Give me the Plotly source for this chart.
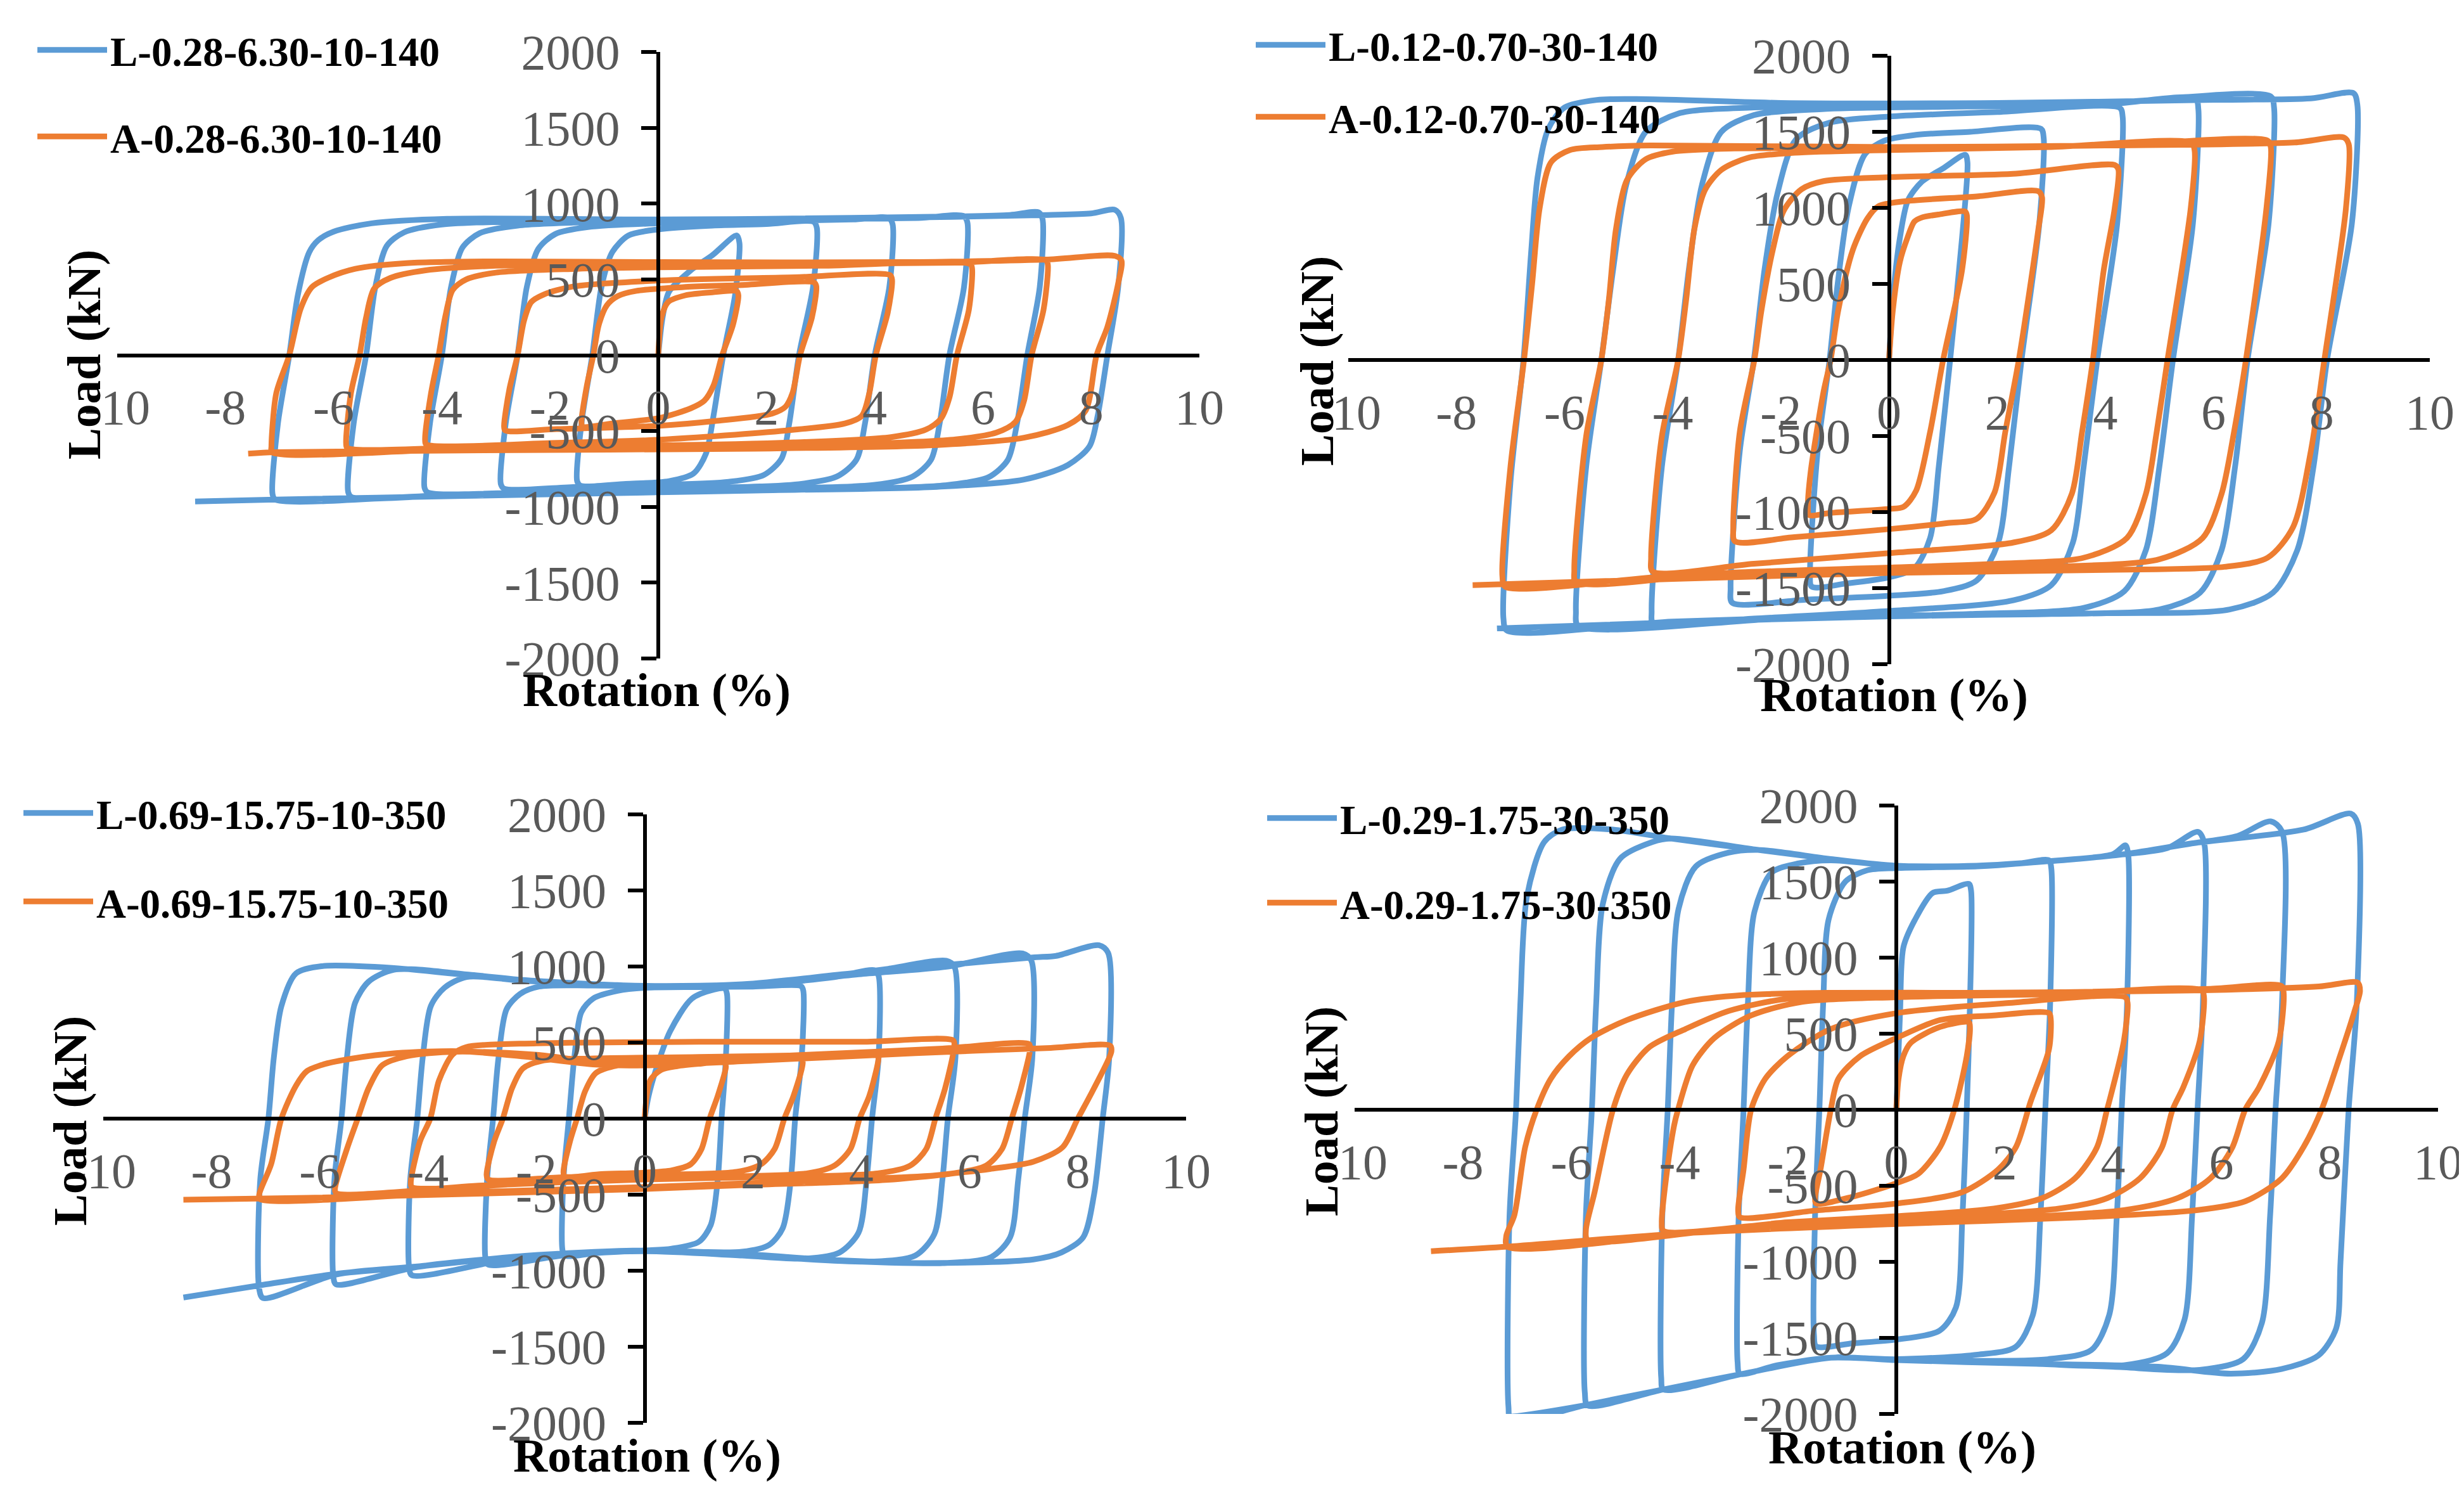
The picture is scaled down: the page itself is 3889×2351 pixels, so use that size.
import plotly.graph_objects as go

W, H = 3889, 2351
BLUE = "#5B9BD5"
ORANGE = "#ED7D31"
FONT = "Liberation Serif"
GRAY = "#595959"

x_ticks = [-10, -8, -6, -4, -2, 0, 2, 4, 6, 8, 10]
y_ticks = [-2000, -1500, -1000, -500, 0, 500, 1000, 1500, 2000]
y_minor = list(range(-2000, 2001, 100))

names_L = ["L-0.28-6.30-10-140", "L-0.12-0.70-30-140", "L-0.69-15.75-10-350", "L-0.29-1.75-30-350"]
names_A = ["A-0.28-6.30-10-140", "A-0.12-0.70-30-140", "A-0.69-15.75-10-350", "A-0.29-1.75-30-350"]

# ---- panel 1 : (rotation %, load kN)
L1 = [(0,0),(0.08,250),(0.2,420),(0.6,560),(1.0,660),(1.45,790),
(1.5,740),(1.42,400),(1.2,0),(1.02,-400),(0.88,-650),(0.65,-780),(0.2,-830),(-0.6,-848),(-1.44,-860),
(-1.5,-830),(-1.42,-450),(-1.22,0),(-1.05,450),(-0.85,680),(-0.55,790),(0,830),(1.0,855),(2.0,865),(2.87,880),
(2.93,840),(2.86,450),(2.6,0),(2.42,-450),(2.28,-680),(1.95,-790),(1.3,-835),(0,-856),(-1.5,-868),(-2.85,-880),
(-2.91,-850),(-2.82,-450),(-2.6,0),(-2.43,450),(-2.22,700),(-1.9,800),(-1.3,845),(0,870),(2.0,885),(3.6,895),(4.26,905),
(4.33,865),(4.27,450),(4.0,0),(3.82,-450),(3.66,-690),(3.3,-800),(2.6,-850),(1.0,-875),(-1.5,-890),(-4.26,-905),
(-4.32,-875),(-4.22,-450),(-4.0,0),(-3.83,450),(-3.62,710),(-3.3,805),(-2.6,855),(-1.0,880),(2.0,895),(4.8,905),(5.64,918),
(5.71,880),(5.65,450),(5.38,0),(5.2,-450),(5.04,-690),(4.7,-800),(4.0,-855),(2.0,-880),(-1.0,-900),(-3.5,-918),(-5.67,-935),
(-5.73,-905),(-5.63,-450),(-5.4,0),(-5.23,450),(-5.02,720),(-4.7,810),(-4.0,862),(-2.0,885),(2.0,900),(5.5,915),(6.5,925),(7.03,942),
(7.1,900),(7.05,450),(6.82,0),(6.63,-450),(6.46,-690),(6.1,-805),(5.3,-858),(3.0,-885),(0,-900),(-4.0,-925),(-7.08,-952),
(-7.13,-915),(-7.03,-450),(-6.82,0),(-6.66,400),(-6.45,680),(-6.28,760),(-6.0,815),(-5.3,870),(-3.9,900),(0,895),(4.0,905),(7.2,925),(8.0,935),(8.44,959),
(8.55,905),(8.5,450),(8.3,0),(8.12,-400),(7.97,-600),(7.57,-724),(6.76,-820),(5.15,-868),(1.8,-892),(0,-904),(-3.6,-928),(-7.08,-952),(-8.56,-964)]

A1 = [(0,0),(0.06,250),(0.18,350),(0.5,395),(1.0,415),(1.45,422),
(1.48,395),(1.38,200),(1.18,0),(1.02,-200),(0.85,-300),(0.6,-350),(0.03,-413),(-0.85,-450),(-1.4,-470),
(-1.42,-440),(-1.32,-200),(-1.2,0),(-1.1,200),(-0.95,330),(-0.75,390),(-0.4,425),(0.5,450),(1.5,462),(2.88,480),
(2.92,455),(2.84,250),(2.62,0),(2.48,-250),(2.35,-340),(2.1,-385),(1.05,-434),(0.03,-465),(-1.87,-487),(-2.83,-496),
(-2.85,-470),(-2.75,-220),(-2.6,0),(-2.48,230),(-2.35,350),(-2.12,400),(-1.58,453),(0.03,493),(2.52,514),(4.28,529),
(4.32,500),(4.24,280),(4.02,0),(3.9,-250),(3.76,-400),(3.45,-450),(2.37,-496),(0.03,-557),(-1.87,-578),(-4.29,-588),
(-4.31,-560),(-4.2,-250),(-4.06,0),(-3.94,250),(-3.8,430),(-3.55,500),(-3.0,545),(-1.5,570),(0,580),(3.0,590),(5.77,600),
(5.8,570),(5.74,300),(5.52,0),(5.38,-280),(5.22,-420),(4.95,-490),(4.3,-540),(2.5,-575),(0,-595),(-3.0,-600),(-5.75,-610),
(-5.77,-580),(-5.68,-250),(-5.52,0),(-5.4,250),(-5.25,440),(-4.95,510),(-4.3,560),(-3.0,590),(0,600),(3.0,605),(5.5,610),(7.17,625),
(7.2,595),(7.12,300),(6.9,0),(6.76,-300),(6.6,-440),(6.25,-510),(5.5,-555),(3.8,-585),(0,-610),(-4.0,-625),(-7.14,-640),
(-7.15,-600),(-7.06,-250),(-6.82,0),(-6.61,307),(-6.4,450),(-6.1,511),(-5.6,570),(-4.66,607),(-2.9,619),(0,614),(4.48,614),(7.16,631),(8.44,655),
(8.56,625),(8.5,475),(8.3,187),(8.1,0),(7.9,-364),(7.57,-460),(6.76,-544),(5.15,-592),(1.79,-616),(-3.59,-628),(-7.08,-640),(-7.58,-649)]

# ---- panel 2
L2 = [(0,0),(0.07,400),(0.2,800),(0.35,1050),(0.6,1170),(1.0,1260),(1.41,1349),
(1.45,1300),(1.35,800),(1.13,0),(0.92,-700),(0.76,-1170),(0.47,-1368),(0,-1429),(-0.8,-1470),(-1.43,-1490),
(-1.46,-1400),(-1.32,-600),(-1.1,0),(-0.95,500),(-0.75,1000),(-0.45,1350),(-0.1,1440),(0.5,1480),(1.5,1500),(2.81,1520),
(2.86,1460),(2.78,900),(2.45,0),(2.22,-700),(2.02,-1200),(1.62,-1450),(1.0,-1520),(0,-1550),(-1.5,-1575),(-2.9,-1596),
(-2.93,-1500),(-2.76,-600),(-2.5,0),(-2.3,600),(-2.06,1100),(-1.72,1450),(-1.1,1560),(0,1600),(2.0,1630),(4.27,1657),
(4.32,1600),(4.22,900),(3.85,0),(3.6,-700),(3.4,-1200),(3.0,-1480),(2.3,-1580),(0,-1650),(-2.5,-1700),(-4.36,-1733),
(-4.39,-1650),(-4.2,-700),(-3.9,0),(-3.7,600),(-3.46,1150),(-3.1,1500),(-2.5,1610),(-1.2,1650),(1.0,1665),(4.0,1680),(5.67,1717),
(5.72,1650),(5.62,900),(5.25,0),(5.0,-700),(4.75,-1250),(4.35,-1520),(3.6,-1630),(1.5,-1670),(-2.0,-1700),(-5.75,-1748),
(-5.79,-1650),(-5.6,-700),(-5.32,0),(-5.1,600),(-4.86,1150),(-4.5,1500),(-3.9,1620),(-2.5,1660),(0,1670),(4.0,1690),(7.06,1733),
(7.12,1660),(7.02,900),(6.63,0),(6.4,-700),(6.15,-1250),(5.75,-1530),(5.0,-1640),(3.0,-1670),(0,-1680),(-4.0,-1720),(-7.07,-1778),
(-7.13,-1700),(-7.0,-800),(-6.76,0),(-6.62,700),(-6.5,1200),(-6.3,1520),(-6.0,1660),(-5.4,1710),(-4.5,1715),(-2.0,1690),(2.0,1690),(6.0,1710),(7.8,1720),(8.59,1754),
(8.66,1680),(8.56,900),(8.1,0),(7.85,-700),(7.55,-1250),(7.1,-1530),(6.3,-1640),(4.0,-1665),(0,-1685),(-4.0,-1725),(-7.25,-1765)]

A2 = [(0,0),(0.07,325),(0.2,644),(0.34,803),(0.47,910),(0.6,936),(0.94,958),(1.41,976),
(1.44,950),(1.35,590),(1.0,0),(0.76,-473),(0.5,-860),(0.27,-965),(0,-979),(-1.08,-1005),(-1.48,-1019),
(-1.5,-960),(-1.45,-739),(-1.21,-207),(-1.08,0),(-0.94,324),(-0.67,723),(-0.4,930),(-0.2,1010),(0.27,1043),(1.62,1075),(2.76,1109),
(2.83,1069),(2.76,856),(2.4,0),(2.15,-473),(1.95,-872),(1.62,-1045),(1.08,-1072),(0,-1112),(-1.75,-1165),(-2.85,-1192),
(-2.88,-1100),(-2.76,-473),(-2.49,0),(-2.36,324),(-2.15,723),(-1.95,980),(-1.62,1122),(-1.21,1176),(0,1202),(2.29,1224),(4.17,1282),
(4.24,1255),(4.17,990),(3.97,590),(3.77,0),(3.57,-473),(3.38,-880),(3.0,-1120),(2.3,-1200),(0,-1270),(-2.5,-1340),(-4.37,-1391),
(-4.4,-1300),(-4.2,-500),(-3.9,0),(-3.75,400),(-3.6,860),(-3.4,1120),(-3.1,1250),(-2.6,1330),(-1.75,1362),(0,1380),(3.0,1400),(5.59,1428),
(5.65,1380),(5.58,1000),(5.15,0),(4.95,-473),(4.75,-880),(4.4,-1170),(3.6,-1300),(2.0,-1340),(0,-1365),(-3.0,-1400),(-5.79,-1460),
(-5.82,-1380),(-5.6,-500),(-5.32,0),(-5.18,400),(-5.05,860),(-4.85,1180),(-4.5,1320),(-4.0,1370),(-3.1,1389),(0,1395),(4.0,1410),(7.0,1442),
(7.06,1400),(6.98,1000),(6.6,0),(6.38,-473),(6.15,-880),(5.8,-1170),(5.0,-1310),(3.0,-1360),(0,-1385),(-4.0,-1420),(-7.1,-1490),
(-7.15,-1420),(-7.0,-700),(-6.75,0),(-6.6,500),(-6.46,1000),(-6.25,1300),(-5.9,1380),(-5.3,1400),(-4.4,1410),(0,1400),(4.0,1410),(7.5,1430),(8.41,1463),
(8.5,1420),(8.45,1000),(8.05,0),(7.8,-600),(7.47,-1100),(7.0,-1300),(6.2,-1360),(4.0,-1380),(0,-1400),(-4.0,-1440),(-7.7,-1480)]

# ---- panel 3
L3 = [(0,0),(0.07,145),(0.2,312),(0.47,574),(0.87,788),(1.28,848),(1.48,855),
(1.52,820),(1.5,400),(1.42,0),(1.35,-400),(1.22,-700),(1.0,-810),(0.5,-855),(0,-867),(-0.8,-880),(-1.48,-900),
(-1.52,-860),(-1.5,-400),(-1.4,0),(-1.3,400),(-1.17,700),(-0.95,790),(-0.5,840),(0,860),(1.0,865),(2.0,868),(2.89,871),
(2.93,840),(2.9,400),(2.78,0),(2.7,-400),(2.55,-720),(2.3,-830),(1.8,-875),(0,-870),(-1.5,-900),(-2.89,-960),
(-2.94,-920),(-2.91,-400),(-2.8,0),(-2.7,400),(-2.55,720),(-2.3,820),(-1.95,868),(-1.0,875),(0,872),(2.0,880),(3.5,930),(4.25,975),
(4.32,940),(4.32,400),(4.2,0),(4.1,-400),(3.95,-750),(3.6,-880),(3.0,-920),(1.8,-900),(0,-872),(-2.2,-905),(-4.3,-1030),
(-4.35,-980),(-4.33,-400),(-4.2,0),(-4.1,400),(-3.95,740),(-3.7,860),(-3.29,931),(-2.2,905),(0,873),(2.0,885),(3.83,955),(4.5,985),(5.57,1038),
(5.72,1000),(5.74,400),(5.6,0),(5.5,-400),(5.35,-760),(5.0,-900),(4.2,-940),(2.5,-915),(0,-868),(-2.2,-905),(-4.2,-975),(-5.7,-1090),
(-5.75,-1040),(-5.73,-400),(-5.6,0),(-5.5,400),(-5.35,760),(-5.1,900),(-4.63,979),(-3.2,945),(-2.2,910),(0,872),(2.0,884),(4.0,950),(5.6,1000),(6.98,1086),
(7.14,1040),(7.16,400),(7.02,0),(6.9,-400),(6.75,-780),(6.4,-910),(5.5,-950),(3.5,-930),(1.8,-890),(0,-868),(-2.2,-902),(-4.2,-972),(-5.7,-1025),(-7.05,-1180),
(-7.12,-1120),(-7.1,-400),(-6.95,0),(-6.85,400),(-6.71,740),(-6.44,955),(-5.97,1002),(-4.63,990),(-2.21,907),(0,871),(1.81,883),(3.83,955),(5.57,1010),(7.2,1060),(7.6,1070),(8.39,1140),
(8.56,1090),(8.58,400),(8.46,0),(8.3,-500),(8.1,-780),(7.7,-880),(7.18,-926),(5.17,-950),(3.15,-926),(1.81,-890),(0,-867),(-2.21,-902),(-4.23,-974),(-5.7,-1021),(-7.05,-1093),(-8.52,-1176)]

A3 = [(0,0),(0.1,250),(0.3,320),(0.6,345),(1.0,360),(1.48,371),
(1.5,340),(1.35,150),(1.2,0),(1.05,-200),(0.85,-300),(0.5,-340),(0,-355),(-0.8,-365),(-1.48,-380),
(-1.5,-350),(-1.38,-150),(-1.25,0),(-1.1,180),(-0.9,300),(-0.5,350),(0,365),(1.5,380),(2.89,395),
(2.92,370),(2.75,150),(2.58,0),(2.4,-200),(2.15,-300),(1.7,-350),(0,-370),(-1.5,-385),(-2.89,-400),
(-2.92,-370),(-2.78,-150),(-2.62,0),(-2.45,200),(-2.25,330),(-1.9,380),(-1.0,395),(1.0,405),(3.5,420),(4.3,431),
(4.32,400),(4.15,150),(3.97,0),(3.8,-200),(3.5,-310),(3.0,-360),(1.0,-385),(-1.5,-410),(-4.3,-450),
(-4.32,-420),(-4.15,-150),(-3.96,0),(-3.8,250),(-3.55,420),(-3.3,470),(-2.0,495),(1.0,505),(4.0,505),(5.7,514),
(5.72,480),(5.55,200),(5.37,0),(5.2,-200),(4.9,-310),(4.3,-360),(2.0,-385),(0,-400),(-3.0,-440),(-5.7,-490),
(-5.72,-460),(-5.5,-200),(-5.3,0),(-5.1,200),(-4.85,350),(-4.4,410),(-3.5,440),(-2.0,420),(-0.8,370),(0.5,380),(3.0,420),(5.5,460),(7.1,490),
(7.12,460),(6.95,200),(6.78,0),(6.6,-200),(6.3,-310),(5.6,-365),(4.5,-390),(1.81,-426),(0,-450),(-3.5,-486),(-7.1,-530),
(-7.12,-500),(-6.9,-300),(-6.71,0),(-6.44,217),(-6.24,312),(-5.9,360),(-5.4,395),(-4.6,430),(-3.4,443),(-2.2,407),(-0.9,355),(0,350),(2.0,380),(5.0,430),(7.5,465),(8.6,479),
(8.62,440),(8.3,200),(8.0,0),(7.72,-188),(7.18,-283),(6.38,-331),(4.5,-402),(1.81,-438),(0,-462),(-3.56,-498),(-6.24,-521),(-8.52,-533)]

# ---- panel 4
L4 = [(0,0),(0.07,650),(0.13,1067),(0.34,1246),(0.67,1425),(0.94,1440),(1.34,1485),
(1.38,1440),(1.36,700),(1.3,0),(1.22,-700),(1.1,-1300),(0.8,-1452),(0,-1511),(-0.8,-1535),(-1.48,-1556),
(-1.52,-1480),(-1.5,-700),(-1.42,0),(-1.35,700),(-1.25,1250),(-0.94,1500),(-0.54,1574),(0,1589),(1.5,1600),(2.3,1620),(2.82,1640),
(2.86,1590),(2.84,700),(2.75,0),(2.66,-700),(2.52,-1350),(2.2,-1560),(1.5,-1610),(0,-1640),(-1.21,-1630),(-2.2,-1680),(-2.89,-1735),
(-2.93,-1660),(-2.91,-700),(-2.82,0),(-2.74,700),(-2.62,1300),(-2.3,1560),(-1.8,1620),(-1.21,1640),(0,1604),(1.48,1604),(2.82,1634),(4.0,1680),(4.23,1738),
(4.28,1680),(4.26,700),(4.16,0),(4.07,-700),(3.93,-1350),(3.6,-1580),(2.8,-1640),(1.0,-1650),(0,-1646),(-1.21,-1630),(-2.82,-1735),(-4.3,-1839),
(-4.34,-1760),(-4.32,-700),(-4.22,0),(-4.14,700),(-4.02,1320),(-3.7,1600),(-3.1,1690),(-2.55,1708),(-1.21,1648),(0,1604),(1.48,1604),(2.82,1634),(4.16,1678),(5.0,1720),(5.57,1827),
(5.68,1760),(5.66,700),(5.56,0),(5.46,-700),(5.32,-1380),(5.0,-1600),(4.2,-1680),(2.5,-1670),(0,-1646),(-1.21,-1630),(-2.82,-1735),(-4.3,-1839),(-5.7,-1944),
(-5.75,-1860),(-5.73,-700),(-5.62,0),(-5.54,700),(-5.42,1350),(-5.1,1650),(-4.5,1760),(-4.16,1783),(-2.55,1708),(-1.21,1648),(0,1604),(1.48,1604),(2.82,1634),(4.16,1678),(5.5,1753),(6.3,1800),(6.91,1896),
(7.12,1830),(7.12,700),(7.0,0),(6.9,-700),(6.75,-1400),(6.4,-1640),(5.6,-1710),(4.0,-1690),(2.0,-1660),(0,-1646),(-1.21,-1630),(-2.82,-1735),(-4.3,-1839),(-5.77,-1944),(-7.11,-2050),
(-7.16,-1950),(-7.14,-700),(-7.02,0),(-6.94,700),(-6.82,1400),(-6.5,1760),(-6.17,1842),(-5.23,1842),(-4.16,1783),(-2.55,1708),(-1.21,1648),(0,1604),(1.48,1604),(2.82,1634),(4.16,1678),(5.5,1753),(7.52,1842),(8.39,1947),
(8.52,1880),(8.5,700),(8.35,0),(8.2,-1000),(8.12,-1437),(7.79,-1616),(7.11,-1705),(6.17,-1735),(4.83,-1690),(2.5,-1670),(0,-1646),(-1.21,-1630),(-2.82,-1735),(-4.3,-1839),(-5.77,-1944),(-7.11,-2018),(-7.92,-2033)]

A4 = [(0,0),(0.04,200),(0.13,352),(0.27,441),(0.81,545),(1.34,575),
(1.36,540),(1.3,352),(1.07,0),(0.81,-244),(0.4,-423),(0,-483),(-0.81,-572),(-1.48,-617),
(-1.5,-580),(-1.4,-394),(-1.21,0),(-1.07,203),(-0.67,352),(0,471),(0.81,590),(1.8,620),(2.82,635),
(2.85,600),(2.82,400),(2.48,54),(2.21,-244),(1.88,-393),(1.21,-543),(0,-617),(-1.48,-662),(-2.89,-706),
(-2.92,-660),(-2.82,-394),(-2.68,0),(-2.42,203),(-2.01,352),(-1.21,531),(0,635),(2.0,700),(4.23,739),
(4.27,700),(4.2,450),(4.0,150),(3.89,0),(3.7,-250),(3.3,-450),(2.7,-580),(1.8,-650),(0,-700),(-2.0,-740),(-4.3,-796),
(-4.33,-740),(-4.25,-450),(-4.1,-100),(-4.03,0),(-3.76,292),(-3.36,471),(-2.68,620),(-1.74,709),(0,740),(3.0,760),(5.64,784),
(5.68,740),(5.6,450),(5.3,150),(5.1,0),(4.9,-250),(4.5,-450),(3.9,-580),(3.0,-650),(0,-720),(-3.0,-780),(-5.7,-856),
(-5.73,-790),(-5.57,-543),(-5.23,0),(-4.97,233),(-4.56,411),(-3.89,531),(-3.09,650),(-2.0,730),(0,755),(3.5,775),(5.8,795),(7.11,814),
(7.15,770),(7.06,450),(6.7,150),(6.44,0),(6.2,-250),(5.8,-450),(5.2,-580),(4.2,-660),(2.0,-710),(0,-730),(-3.5,-800),(-7.18,-900),
(-7.2,-830),(-7.05,-692),(-6.85,-244),(-6.64,0),(-6.38,203),(-6.04,352),(-5.64,471),(-4.97,590),(-3.89,709),(-2.82,754),(-1.21,769),(1.48,769),(5.5,784),(7.8,810),(8.52,835),
(8.56,780),(8.46,650),(8.19,352),(7.85,0),(7.52,-244),(7.11,-453),(6.44,-602),(5.5,-662),(3.49,-706),(0,-751),(-3.89,-811),(-7.18,-900),(-8.59,-930)]

L_data = [L1, L2, L3, L4]
A_data = [A1, A2, A3, A4]

# ---- layout geometry (pixels in the 3889x2351 canvas)
px_x = [(177, 1885), (2120, 3827), (155, 1864), (2130, 3840)]
px_y = [(74, 1031), (80, 1040), (1277, 2237), (1263, 2223)]
legend_pos = [(46, 22, 49), (1969, 14, 26), (24, 1226, 52), (1987, 1234, 46)]
ylab_pos = [(124, 552), (2071, 562), (102, 1761), (2077, 1746)]
xlab_pos = [(1028, 1080), (2981, 1088), (1013, 2288), (2994, 2275)]

fig = go.Figure()
layout = dict(width=W, height=H, margin=dict(l=0, r=0, t=0, b=0, autoexpand=False),
              paper_bgcolor="white", plot_bgcolor="rgba(0,0,0,0)",
              font=dict(family=FONT), annotations=[])

for i in range(4):
    k = i + 1
    sfx = "" if k == 1 else str(k)
    (x0, x1), (y0, y1) = px_x[i], px_y[i]
    xc = (x0 + x1) / 2
    yc = (y0 + y1) / 2
    xdom = [x0 / W, x1 / W]
    ydom = [1 - y1 / H, 1 - y0 / H]
    leg = "legend" + sfx
    for data, nm, col in ((L_data[i], names_L[i], BLUE), (A_data[i], names_A[i], ORANGE)):
        fig.add_trace(go.Scatter(
            x=[p[0] for p in data], y=[p[1] for p in data], mode="lines", name=nm,
            line=dict(color=col, width=9, shape="spline", smoothing=0.8),
            xaxis="x" + sfx, yaxis="y" + sfx, legend=leg, legendgroup=nm))
    layout["xaxis" + sfx] = dict(
        domain=xdom, range=[-10, 10], anchor="free", position=1 - yc / H,
        showline=True, linecolor="black", linewidth=6, ticks="",
        tickmode="array", tickvals=x_ticks, ticktext=[str(v) for v in x_ticks],
        tickfont=dict(family=FONT, size=78, color=GRAY), ticklabelstandoff=12,
        showgrid=False, zeroline=False, automargin=False)
    layout["yaxis" + sfx] = dict(
        domain=ydom, range=[-2000, 2000], anchor="free", position=xc / W,
        showline=True, linecolor="black", linewidth=6,
        ticks="outside", ticklen=24, tickwidth=6, tickcolor="black",
        tickmode="array", tickvals=y_ticks, ticktext=[str(v) for v in y_ticks],
        tickfont=dict(family=FONT, size=78, color=GRAY), ticklabelstandoff=18,
        showgrid=False, zeroline=False, automargin=False)
    layout["yaxis" + str(k + 4)] = dict(
        overlaying="y" + sfx, range=[-2000, 2000], anchor="free", position=xc / W,
        showline=False, ticks="inside", ticklen=17, tickwidth=6, tickcolor="black",
        tickmode="array", tickvals=y_minor, showticklabels=False,
        showgrid=False, zeroline=False, automargin=False)
    lx, ly, gap = legend_pos[i]
    layout[leg] = dict(x=lx / W, y=1 - ly / H, xanchor="left", yanchor="top",
                       font=dict(family=FONT, size=65, color="black", weight="bold"),
                       bgcolor="rgba(0,0,0,0)", traceorder="grouped", tracegroupgap=gap,
                       itemwidth=110)
    ax, ay = ylab_pos[i]
    layout["annotations"].append(dict(
        text="Load (kN)", x=ax / W, y=1 - ay / H, xref="paper", yref="paper",
        xanchor="center", yanchor="middle", textangle=-90, showarrow=False,
        font=dict(family=FONT, size=75, color="black", weight="bold")))
    bx, by = xlab_pos[i]
    layout["annotations"].append(dict(
        text="Rotation (%)", x=bx / W, y=1 - by / H, xref="paper", yref="paper",
        xanchor="center", yanchor="middle", showarrow=False,
        font=dict(family=FONT, size=75, color="black", weight="bold")))

fig.update_layout(**layout)
fig.write_html("out.html")
